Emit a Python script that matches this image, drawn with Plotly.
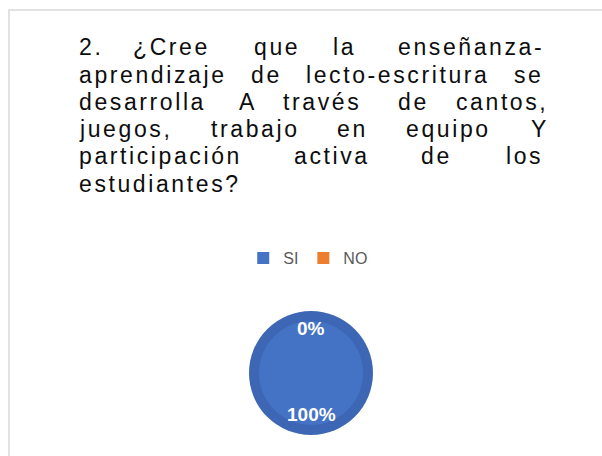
import numpy as np
import plotly.graph_objects as go

# data
labels = ["SI", "NO"]
values = [100, 0]
colors = ["#4472C4", "#ED7D31"]
ring_colors = ["#3D67B4", "#D46F2B"]

title_lines = [
    ["2.", "¿Cree", "que", "la", "enseñanza-"],
    ["aprendizaje", "de", "lecto-escritura", "se"],
    ["desarrolla", "A", "través", "de", "cantos,"],
    ["juegos,", "trabajo", "en", "equipo", "Y"],
    ["participación", "activa", "de", "los"],
    ["estudiantes?"],
]
# left edge of each word (px)
word_x = [
    [78, 132, 253, 332, 397],
    [78, 250, 305, 513],
    [78, 238, 282, 397, 455],
    [78, 210, 336, 405, 530],
    [78, 293, 420, 505],
    [78],
]
baselines = [55, 83, 110, 137, 164, 192]

W, H = 602, 456
cx, cy, R = 311, 373, 62   # pie centre / radius in px
ring = 10

fig = go.Figure()

# darker outer ring (bevel look)
fig.add_trace(go.Pie(
    labels=labels, values=values, sort=False, direction="clockwise", rotation=0,
    marker=dict(colors=ring_colors, line=dict(width=0)),
    textinfo="none", hoverinfo="skip", showlegend=False,
    domain=dict(x=[(cx - R) / W, (cx + R) / W], y=[1 - (cy + R) / H, 1 - (cy - R) / H]),
))
r2 = R - ring
fig.add_trace(go.Pie(
    labels=labels, values=values, sort=False, direction="clockwise", rotation=0,
    marker=dict(colors=colors, line=dict(width=0)),
    textinfo="none", hoverinfo="label+percent",
    domain=dict(x=[(cx - r2) / W, (cx + r2) / W], y=[1 - (cy + r2) / H, 1 - (cy - r2) / H]),
))

# percent labels
vals = np.array(values, dtype=float)
pct = vals / vals.sum()
start = np.concatenate([[0], np.cumsum(pct)[:-1]])
mid = (start + pct / 2) * 2 * np.pi
rads = [0.67 if p > 0.5 else 0.71 for p in pct]
annotations = []
for p, a, rr in zip(pct, mid, rads):
    x = cx + rr * R * np.sin(a)
    y = cy - rr * R * np.cos(a)
    annotations.append(dict(
        x=x / W, y=1 - y / H, xref="paper", yref="paper",
        text="<b>%d%%</b>" % round(p * 100), showarrow=False,
        font=dict(family="Liberation Sans", size=19, color="white"),
        xanchor="center", yanchor="middle",
    ))

# title, word by word (justified)
for words, xs, base in zip(title_lines, word_x, baselines):
    for w, x in zip(words, xs):
        annotations.append(dict(
            x=x / W, y=1 - (base - 8) / H, xref="paper", yref="paper",
            text='<span style="letter-spacing:2.6px">%s</span>' % w,
            showarrow=False, xanchor="left", yanchor="middle", borderpad=0,
            font=dict(family="Liberation Sans", size=23, color="#0D0D0D"),
        ))

fig.update_layout(
    width=W, height=H,
    margin=dict(l=0, r=0, t=0, b=0),
    paper_bgcolor="white", plot_bgcolor="white",
    annotations=annotations,
    legend=dict(
        orientation="h", x=0.512, xanchor="center", y=1 - 258 / H, yanchor="middle",
        font=dict(family="Liberation Sans", size=16, color="#595959"),
        itemwidth=30, traceorder="normal",
    ),
    shapes=[dict(
        type="rect", xref="paper", yref="paper",
        x0=9 / W, x1=1.05, y0=-0.05, y1=1 - 10 / H,
        line=dict(color="#D9D9D9", width=1.5),
    )],
)

fig.write_html("out.html", config={"displayModeBar": False},
               post_script="document.body.style.margin='0';")
